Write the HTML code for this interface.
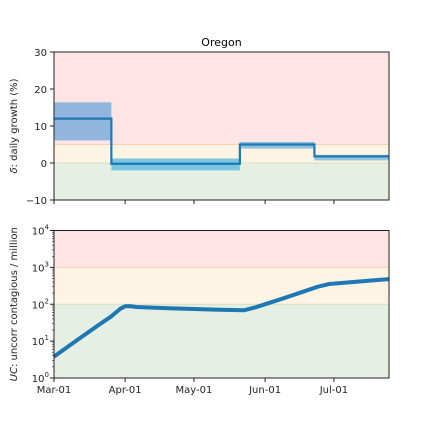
<!DOCTYPE html>
<html><head><meta charset="utf-8"><style>
body{margin:0;background:#fff;}
svg{display:block;font-family:"DejaVu Sans","Liberation Sans",sans-serif;}
</style></head><body>
<svg id="chart" width="432" height="432" viewBox="0 0 432 432"></svg>
<script>
// data
const monthLabels = ["Mar-01","Apr-01","May-01","Jun-01","Jul-01"];
const monthDays = [0,31,61,92,122];
const stepStarts = [0,25,81,113.5];
const stepEnds = [25,81,113.5,146];
const stepValues = [12,-0.2,5.0,1.8];
const bandLow = [6.1,-2.0,3.9,0.7];
const bandHigh = [16.4,1.2,5.7,2.2];
const growthTicks = [-10,0,10,20,30];
const ucDays = [0,10,20,25,27,29,31,33,36,50,72,83,88,100,115,120,146];
const ucValues = [3.8,10.5,29,47,60,76,88,89,84,78,71,69,83,145,300,355,480];
const ucTicks = [0,1,2,3,4];

const NS="http://www.w3.org/2000/svg";
const svg=document.getElementById('chart');
function mk(tag,attrs,parent){const e=document.createElementNS(NS,tag);for(const k in attrs)e.setAttribute(k,attrs[k]);(parent||svg).appendChild(e);return e;}
const X0=54,X1=389,DAYMAX=146;
const x=d=>X0+d*(X1-X0)/DAYMAX;
const T0=52,T1=200;
const yTop=v=>T1-(v+10)*(T1-T0)/40;
const B0=230.5,B1=378;
const yBot=v=>B1-Math.log10(v)*(B1-B0)/4;

let r;
r=mk('rect',{x:X0,y:yTop(30),width:X1-X0,height:yTop(5)-yTop(30),fill:'#fee4e4'});

r=mk('rect',{x:X0,y:yTop(5),width:X1-X0,height:yTop(0)-yTop(5),fill:'#fdf4e4'});

r=mk('rect',{x:X0,y:yTop(0),width:X1-X0,height:yTop(-10)-yTop(0),fill:'#e5efe3'});

mk('line',{x1:X0,x2:X1,y1:yTop(5),y2:yTop(5),stroke:'#fcd0b0','stroke-width':1});
mk('line',{x1:X0,x2:X1,y1:yTop(0),y2:yTop(0),stroke:'#d8e0c0','stroke-width':1});
const bandColors=['#92b5de','#7ac5e0','#8ec0e0','#8ec5e0'];
for(let i=0;i<stepValues.length;i++){
  const b=mk('rect',{x:x(stepStarts[i]),y:yTop(bandHigh[i]),width:x(stepEnds[i])-x(stepStarts[i]),height:yTop(bandLow[i])-yTop(bandHigh[i]),fill:bandColors[i]});
  
  
}
let d='';
for(let i=0;i<stepValues.length;i++){
  d+=(i===0?'M':'L')+x(stepStarts[i])+','+yTop(stepValues[i])+'L'+x(stepEnds[i])+','+yTop(stepValues[i]);
}
const sl=mk('path',{d:d,fill:'none',stroke:'#1f77b4','stroke-width':2.2});


mk('rect',{x:X0,y:T0,width:X1-X0,height:T1-T0,fill:'none',stroke:'#222','stroke-width':1});
growthTicks.forEach(v=>{
  mk('line',{x1:X0-4,x2:X0,y1:yTop(v),y2:yTop(v),stroke:'#222'});
  const t=mk('text',{x:X0-7,y:yTop(v)+4,'text-anchor':'end','font-size':10,fill:'#222'});
  t.textContent=v<0?'\u2212'+(-v):v;
  
  
});
monthDays.forEach(dd=>mk('line',{x1:x(dd),x2:x(dd),y1:T1,y2:T1+4,stroke:'#222'}));
let t=mk('text',{x:(X0+X1)/2,y:46,'text-anchor':'middle','font-size':11,fill:'#000'});
t.textContent='Oregon';
t=mk('text',{x:17,y:(T0+T1)/2,'text-anchor':'middle','font-size':10,fill:'#222',transform:'rotate(-90 17 '+((T0+T1)/2)+')'});
t.innerHTML='<tspan font-style="italic">δ</tspan>: daily growth (%)';


r=mk('rect',{x:X0,y:yBot(10000),width:X1-X0,height:yBot(1000)-yBot(10000),fill:'#fee4e4'});

r=mk('rect',{x:X0,y:yBot(1000),width:X1-X0,height:yBot(100)-yBot(1000),fill:'#fdf4e4'});

r=mk('rect',{x:X0,y:yBot(100),width:X1-X0,height:yBot(1)-yBot(100),fill:'#e5efe3'});

mk('line',{x1:X0,x2:X1,y1:yBot(1000),y2:yBot(1000),stroke:'#fcd0b0'});
mk('line',{x1:X0,x2:X1,y1:yBot(100),y2:yBot(100),stroke:'#d8e0c0'});
d='';
ucDays.forEach((dd,i)=>{d+=(i?'L':'M')+x(dd).toFixed(1)+','+yBot(ucValues[i]).toFixed(1);});
const cl=mk('path',{d:d,fill:'none',stroke:'#1f77b4','stroke-width':4,'stroke-linejoin':'round'});


mk('rect',{x:X0,y:B0,width:X1-X0,height:B1-B0,fill:'none',stroke:'#222'});
ucTicks.forEach(p=>{
  mk('line',{x1:X0-4,x2:X0,y1:yBot(Math.pow(10,p)),y2:yBot(Math.pow(10,p)),stroke:'#222'});
  if(p<4)for(let m=2;m<10;m++){const yy=yBot(m*Math.pow(10,p));mk('line',{x1:X0-2,x2:X0,y1:yy,y2:yy,stroke:'#222','stroke-width':0.6});}
  const tt=mk('text',{x:X0-5,y:yBot(Math.pow(10,p))+4,'text-anchor':'end','font-size':10,fill:'#222'});
  tt.innerHTML='10<tspan dy="-5" font-size="7">'+p+'</tspan>';
  
  
});
monthDays.forEach((dd,i)=>{
  mk('line',{x1:x(dd),x2:x(dd),y1:B1,y2:B1+4,stroke:'#222'});
  const tt=mk('text',{x:x(dd),y:B1+15,'text-anchor':'middle','font-size':10,fill:'#222'});
  tt.textContent=monthLabels[i];
  
  
});
t=mk('text',{x:17,y:(B0+B1)/2,'text-anchor':'middle','font-size':10,fill:'#222',transform:'rotate(-90 17 '+((B0+B1)/2)+')'});
t.innerHTML='<tspan font-style="italic">UC</tspan>: uncorr contagious / million';

</script>
</body></html>
